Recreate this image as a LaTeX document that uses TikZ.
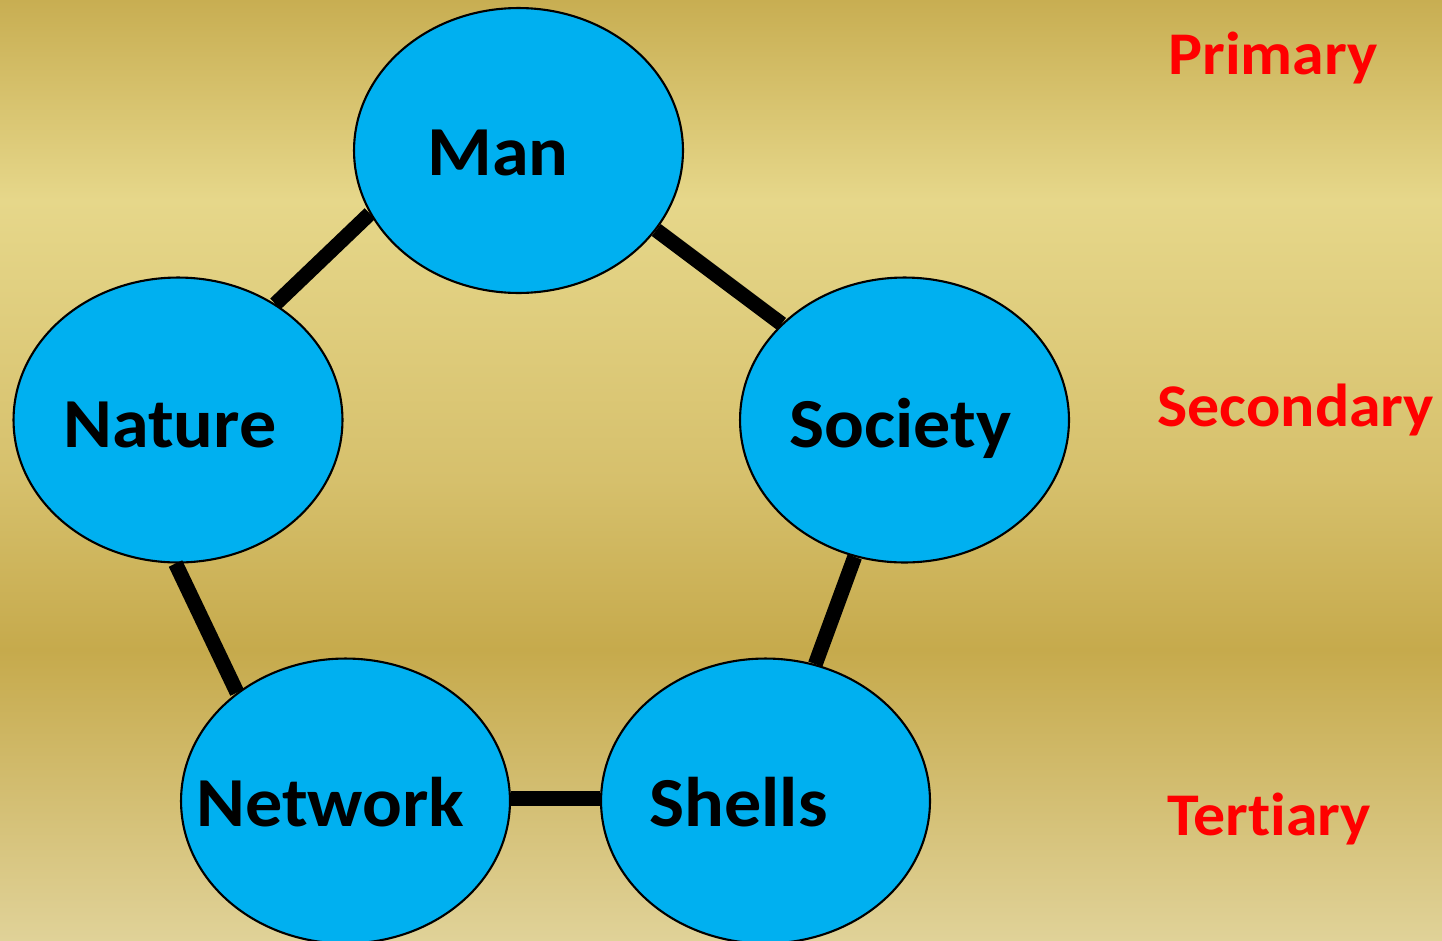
\documentclass[tikz,border=0pt]{standalone}
\usepackage{fontspec}
\setmainfont[FakeStretch=1.055, Ligatures={NoCommon}]{Carlito}
\usetikzlibrary{shapes.geometric}

\definecolor{goldtop}{HTML}{C8AE52}
\definecolor{goldlight}{HTML}{E6D78A}
\definecolor{goldmid}{HTML}{D6C06C}
\definecolor{golddark}{HTML}{C6AA4C}
\definecolor{goldbottom}{HTML}{E0D298}
\definecolor{sky}{HTML}{00B0F0}

% background, bottom -> top; the filled area takes 25bp..75bp
\pgfdeclareverticalshading{goldbg}{100bp}{%
  color(0bp)=(goldbottom); color(25bp)=(goldbottom); color(40.43bp)=(golddark);
  color(49.47bp)=(goldmid); color(64.36bp)=(goldlight); color(75bp)=(goldtop);
  color(100bp)=(goldtop)}

\tikzset{
  blob/.style={ellipse, draw=black, line width=1.2pt, fill=sky, inner sep=0pt,
    minimum width=6.58cm, minimum height=5.7cm},
  word/.style={anchor=base west, inner sep=0pt, font=\fontsize{40}{40}\selectfont\bfseries},
  level/.style={anchor=base west, inner sep=0pt, text=red, font=\fontsize{34.5}{36}\selectfont\bfseries},
  link/.style={line width=8.5pt}
}

\begin{document}
\begin{tikzpicture}[x=0.02cm, y=-0.02cm]
\useasboundingbox (0,0) rectangle (1442,940);
\clip (0,0) rectangle (1442,940);
\shade[shading=goldbg] (0,0) rectangle (1442,940);

% the five circles
\node[blob] (man) at (518.5,150.5) {};
\node[blob] (nature) at (178,420) {};
\node[blob] (society) at (904.5,420) {};
\node[blob] (network) at (345.5,801) {};
\node[blob] (shells) at (765.5,801) {};

\node[word] (manT) at (427,175) {Man};
\node[word] (natureT) at (63,447) {Nature};
\node[word] (societyT) at (789,447) {Society};
\node[word] (networkT) at (196,826) {Network};
\node[word] (shellsT) at (649,826) {Shells};

% links round the ring
\draw[link] (man.203) -- (nature.50);
\draw[link] (man.330) -- (society.142.5);
\draw[link] (nature.269) -- (network.135);
\draw[link] (society.250) -- (shells.70.4);
\draw[link] (network.1.4) -- (network.1.4 -| shells.west);

\node[level] (primary) at (1168,74) {Primary};
\node[level] (secondary) at (1157,426) {Secondary};
\node[level] (tertiary) at (1167,835) {Tertiary};
\end{tikzpicture}
\end{document}
